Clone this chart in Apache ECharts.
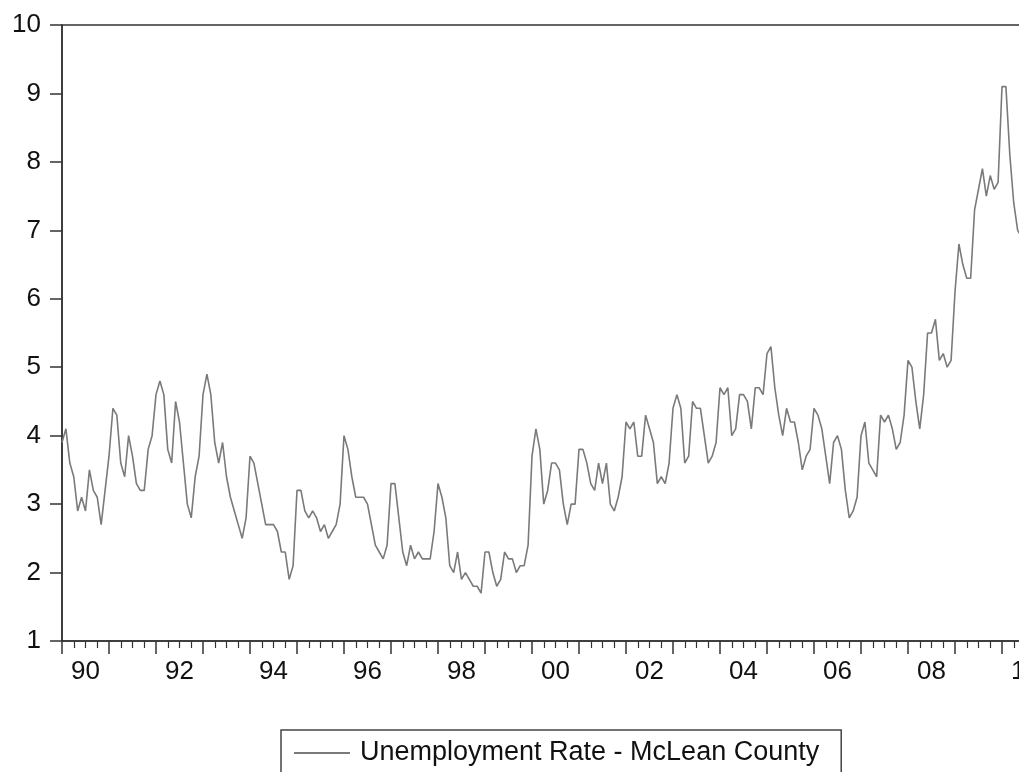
<!DOCTYPE html>
<html>
<head>
<meta charset="utf-8">
<script src="https://cdn.jsdelivr.net/npm/echarts@6/dist/echarts.min.js"></script>
<style>
html,body{margin:0;padding:0;background:#fff;overflow:hidden;width:1019px;height:772px;}
#chart{width:1100px;height:800px;}
</style>
</head>
<body>
<div id="chart"></div>
<script>
// Monthly unemployment rate, McLean County (Jan 1990 onward)
const rates1990 = [3.9, 4.1, 3.6, 3.4, 2.9, 3.1, 2.9, 3.5, 3.2, 3.1, 2.7, 3.2];
const rates1991 = [3.7, 4.4, 4.3, 3.6, 3.4, 4.0, 3.7, 3.3, 3.2, 3.2, 3.8, 4.0];
const rates1992 = [4.6, 4.8, 4.6, 3.8, 3.6, 4.5, 4.2, 3.6, 3.0, 2.8, 3.4, 3.7];
const rates1993 = [4.6, 4.9, 4.6, 3.9, 3.6, 3.9, 3.4, 3.1, 2.9, 2.7, 2.5, 2.8];
const rates1994 = [3.7, 3.6, 3.3, 3.0, 2.7, 2.7, 2.7, 2.6, 2.3, 2.3, 1.9, 2.1];
const rates1995 = [3.2, 3.2, 2.9, 2.8, 2.9, 2.8, 2.6, 2.7, 2.5, 2.6, 2.7, 3.0];
const rates1996 = [4.0, 3.8, 3.4, 3.1, 3.1, 3.1, 3.0, 2.7, 2.4, 2.3, 2.2, 2.4];
const rates1997 = [3.3, 3.3, 2.8, 2.3, 2.1, 2.4, 2.2, 2.3, 2.2, 2.2, 2.2, 2.6];
const rates1998 = [3.3, 3.1, 2.8, 2.1, 2.0, 2.3, 1.9, 2.0, 1.9, 1.8, 1.8, 1.7];
const rates1999 = [2.3, 2.3, 2.0, 1.8, 1.9, 2.3, 2.2, 2.2, 2.0, 2.1, 2.1, 2.4];
const rates2000 = [3.7, 4.1, 3.8, 3.0, 3.2, 3.6, 3.6, 3.5, 3.0, 2.7, 3.0, 3.0];
const rates2001 = [3.8, 3.8, 3.6, 3.3, 3.2, 3.6, 3.3, 3.6, 3.0, 2.9, 3.1, 3.4];
const rates2002 = [4.2, 4.1, 4.2, 3.7, 3.7, 4.3, 4.1, 3.9, 3.3, 3.4, 3.3, 3.6];
const rates2003 = [4.4, 4.6, 4.4, 3.6, 3.7, 4.5, 4.4, 4.4, 4.0, 3.6, 3.7, 3.9];
const rates2004 = [4.7, 4.6, 4.7, 4.0, 4.1, 4.6, 4.6, 4.5, 4.1, 4.7, 4.7, 4.6];
const rates2005 = [5.2, 5.3, 4.7, 4.3, 4.0, 4.4, 4.2, 4.2, 3.9, 3.5, 3.7, 3.8];
const rates2006 = [4.4, 4.3, 4.1, 3.7, 3.3, 3.9, 4.0, 3.8, 3.2, 2.8, 2.9, 3.1];
const rates2007 = [4.0, 4.2, 3.6, 3.5, 3.4, 4.3, 4.2, 4.3, 4.1, 3.8, 3.9, 4.3];
const rates2008 = [5.1, 5.0, 4.5, 4.1, 4.6, 5.5, 5.5, 5.7, 5.1, 5.2, 5.0, 5.1];
const rates2009 = [6.1, 6.8, 6.5, 6.3, 6.3, 7.3, 7.6, 7.9, 7.5, 7.8, 7.6, 7.7];
const rates2010 = [9.1, 9.1, 8.1, 7.4, 7.0, 6.9];

const years = [1990,1991,1992,1993,1994,1995,1996,1997,1998,1999,2000,2001,2002,2003,2004,2005,2006,2007,2008,2009,2010];
const yTicks = [1,2,3,4,5,6,7,8,9,10];
const seriesName = 'Unemployment Rate - McLean County';

const values = [].concat(rates1990, rates1991, rates1992, rates1993, rates1994, rates1995,
  rates1996, rates1997, rates1998, rates1999, rates2000, rates2001, rates2002, rates2003,
  rates2004, rates2005, rates2006, rates2007, rates2008, rates2009, rates2010);

const categories = [];
years.forEach(y => { for (let m = 1; m <= 12; m++) categories.push(y + 'M' + (m < 10 ? '0' + m : m)); });

const FONT = 'Liberation Sans, Arial, sans-serif';
const AX = '#333';

const chart = echarts.init(document.getElementById('chart'), null, {renderer: 'canvas'});
chart.setOption({
  animation: false,
  backgroundColor: '#fff',
  textStyle: {fontFamily: FONT},
  grid: {
    left: 62, top: 25, width: (categories.length - 1) * 47 / 12, height: 616,
    show: true, borderColor: AX, borderWidth: 1.5, backgroundColor: 'transparent',
    containLabel: false
  },
  legend: {
    data: [seriesName],
    left: 281, top: 730,
    padding: [8, 22, 12, 13],
    borderColor: '#444', borderWidth: 1.5,
    itemWidth: 56, itemHeight: 2,
    icon: 'rect',
    textStyle: {fontFamily: FONT, fontSize: 27, color: '#111', padding: [0, 0, 0, 5], lineHeight: 30}
  },
  xAxis: [{
    type: 'category', data: categories, boundaryGap: false, position: 'bottom',
    axisLine: {show: true, lineStyle: {color: AX, width: 1.5}},
    axisTick: {show: true, length: 13, interval: (i) => i % 12 === 0, lineStyle: {color: AX, width: 1.5}},
    axisLabel: {
      show: true, margin: 18, fontSize: 26, color: '#111', fontFamily: FONT,
      interval: (i, v) => i % 12 === 6 && parseInt(v, 10) % 2 === 0,
      formatter: (v) => v.slice(2, 4)
    },
    splitLine: {show: false}
  }, {
    type: 'category', data: categories, boundaryGap: false, position: 'bottom',
    axisLine: {show: false},
    axisTick: {show: true, length: 7, interval: (i) => i % 3 === 0 && i % 12 !== 0, lineStyle: {color: AX, width: 1.2}},
    axisLabel: {show: false},
    splitLine: {show: false}
  }],
  yAxis: {
    type: 'value', min: yTicks[0], max: yTicks[yTicks.length - 1], interval: 1,
    axisLine: {show: true, lineStyle: {color: AX, width: 1.5}},
    axisTick: {show: true, length: 12, lineStyle: {color: AX, width: 1.5}},
    axisLabel: {margin: 21, fontSize: 26, color: '#111', fontFamily: FONT},
    splitLine: {show: false}
  },
  series: [{
    name: seriesName, type: 'line', xAxisIndex: 0, data: values,
    showSymbol: false, symbol: 'none',
    lineStyle: {color: '#7a7a7a', width: 1.6},
    itemStyle: {color: '#7a7a7a'}
  }]
});
</script>
</body>
</html>
